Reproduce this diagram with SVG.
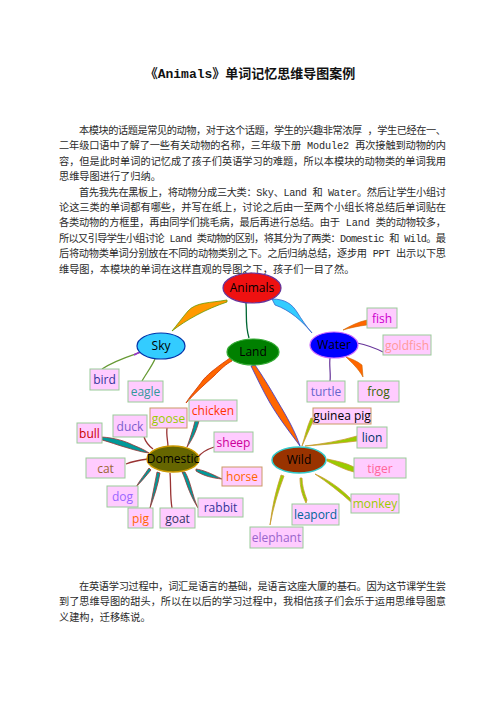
<svg xmlns="http://www.w3.org/2000/svg" width="496" height="702" viewBox="0 0 496 702">
<style>
.t{font-family:"Liberation Mono","Noto Sans CJK SC",monospace;font-size:10.2px;fill:#2a2a2a}
.title{font-family:"Liberation Mono","Noto Sans CJK SC",monospace;font-size:13px;font-weight:bold;fill:#111}
.box{fill:#ffccff;stroke:#99cc99;stroke-width:1}
.box2{fill:#ffccff;stroke:#cc9966;stroke-width:1}
.lb{font-family:"Open Sans","Noto Sans",sans-serif;font-size:12px;text-anchor:middle}
.nd{font-family:"Open Sans","Noto Sans",sans-serif;font-size:12px;text-anchor:middle;fill:#000}
.dt{fill:#009999;stroke:#993333;stroke-width:0.8}
.dl{fill:none;stroke:#993333;stroke-width:1.3}
.wt{fill:#99cc00;stroke:#cc9933;stroke-width:0.8}
</style>
<rect width="496" height="702" fill="#fff"/>
<text class="title" x="250" y="77.5" text-anchor="middle">《Animals》单词记忆思维导图案例</text>
<g id="para1">
<text class="t" x="79" y="134" textLength="367" lengthAdjust="spacing">本模块的话题是常见的动物，对于这个话题，学生的兴趣非常浓厚 ，学生已经在一、</text>
<text class="t" x="59" y="149.4" textLength="387" lengthAdjust="spacing">二年级口语中了解了一些有关动物的名称，三年级下册 Module2 再次接触到动物的内</text>
<text class="t" x="59" y="164.8" textLength="387" lengthAdjust="spacing">容，但是此时单词的记忆成了孩子们英语学习的难题，所以本模块的动物类的单词我用</text>
<text class="t" x="59" y="180.2">思维导图进行了归纳。</text>
<text class="t" x="79" y="195.6" textLength="367" lengthAdjust="spacing">首先我先在黑板上，将动物分成三大类：Sky、Land 和 Water。然后让学生小组讨</text>
<text class="t" x="59" y="211" textLength="387" lengthAdjust="spacing">论这三类的单词都有哪些，并写在纸上，讨论之后由一至两个小组长将总结后单词贴在</text>
<text class="t" x="59" y="226.4" textLength="387" lengthAdjust="spacing">各类动物的方框里，再由同学们挑毛病，最后再进行总结。由于 Land 类的动物较多，</text>
<text class="t" x="59" y="241.8" textLength="387" lengthAdjust="spacing">所以又引导学生小组讨论 Land 类动物的区别，将其分为了两类：Domestic 和 Wild。最</text>
<text class="t" x="59" y="257.2" textLength="387" lengthAdjust="spacing">后将动物类单词分别放在不同的动物类别之下。之后归纳总结，逐步用 PPT 出示以下思</text>
<text class="t" x="59" y="272.6">维导图，本模块的单词在这样直观的导图之下，孩子们一目了然。</text>
</g>
<g id="connectors">
<path d="M227,300 C210,303 196,302 188,311 C182,318 177,325 172,331 C186,320 206,309 227,302 Z" fill="#ff9900" stroke="#669900" stroke-width="0.8"/>
<path d="M272,299 C285,299 292,304 297,312 C302,320 306,326 312,333 C303,322 290,310 275,305 Z" fill="#33ccff" stroke="#3366cc" stroke-width="0.8"/>
<path d="M246,303 C247,315 245,325 249,338" fill="none" stroke="#006633" stroke-width="1.3"/>
<path d="M230,358 C220,365 210,372 203,380 C196,390 190,396 186,403 C195,393 205,384 214,376 C221,369 226,364 232,361 Z" fill="#ff6600" stroke="#cc3300" stroke-width="0.8"/>
<path d="M251,366 C257,378 263,391 270,403 C280,420 292,435 300,446 C295,431 287,417 278,402 C270,388 262,375 255,365 Z" fill="#ff6600" stroke="#3333cc" stroke-width="0.8"/>
<path d="M144,351 C130,356 115,360 102,369" fill="none" stroke="#669933" stroke-width="1.3"/>
<path d="M144,351 C140,352 137,353 134,355" fill="none" stroke="#9933cc" stroke-width="1.6"/>
<path d="M155,359 C152,366 146,374 142,381" fill="none" stroke="#669933" stroke-width="1.3"/>
<path d="M343,330 C350,326 358,322 367,320 L367,325 C358,326 350,328 343,330 Z" fill="#ff6600" stroke="#cc6600" stroke-width="0.6"/>
<path d="M357,343 C367,345 375,348 383,352" fill="none" stroke="#663399" stroke-width="1.2"/>
<path d="M330,358 C329,366 331,374 330,381" fill="none" stroke="#663399" stroke-width="1.2"/>
<path d="M346,357 C352,363 358,368 363,377 L362,365 C357,361 352,359 346,357 Z" fill="#ff6600" stroke="#cc6600" stroke-width="0.6"/>
<path class="dt" d="M102,437 C115,438 125,441 133,445 C140,448 145,450 149,453 C140,452 128,448 118,445 C112,443 106,441 102,440 Z"/>
<path class="dl" d="M144,437 C146,443 149,446 153,449"/>
<path class="dl" d="M167,428 C166,435 168,441 168,447"/>
<path class="dt" d="M187,447 C190,438 193,430 195,421 L199,421 C196,432 192,440 187,447 Z"/>
<path class="dl" d="M214,447 C208,449 202,452 198,457"/>
<path class="dl" d="M126,464 C133,461 140,460 148,459"/>
<path class="dt" d="M196,469 C203,470 210,473 222,479 C212,478 204,476 196,471 Z"/>
<path class="dt" d="M149,468 C145,474 140,480 136,487 C141,482 146,476 151,470 Z"/>
<path class="dt" d="M157,472 C155,484 152,496 150,508 C154,497 158,485 160,473 Z"/>
<path class="dl" d="M170,473 C171,485 170,497 172,508"/>
<path class="dt" d="M182,472 C186,480 188,492 198,508 C192,495 191,482 185,472 Z"/>
<path class="wt" d="M302,446 C305,436 307,427 311,418 L314,419 C310,428 306,437 302,446 Z"/>
<path class="wt" d="M305,446 C322,444 340,441 357,436 L357,441 C340,443 322,445 305,446 Z"/>
<path class="wt" d="M327,459 C337,461 346,463 354,467 L354,472 C345,470 336,465 327,461 Z"/>
<path class="wt" d="M315,474 C327,482 340,492 352,503 L350,498 C340,488 327,479 315,474 Z"/>
<path class="wt" d="M300,478 C300,487 302,495 306,503 L307,500 C304,492 302,485 302,478 Z"/>
<path class="wt" d="M281,475 C276,490 272,507 270,525 C273,508 278,492 284,476 Z"/>
</g>
<g id="animals"><ellipse cx="252" cy="288" rx="29" ry="15" fill="#ee1111" stroke="#663399" stroke-width="1.2"/><text class="nd" x="252" y="292">Animals</text></g>
<g id="sky"><ellipse cx="161" cy="346" rx="24" ry="13" fill="#33ccff" stroke="#0033aa" stroke-width="1.2"/><text class="nd" x="161" y="350">Sky</text></g>
<g id="land"><ellipse cx="253" cy="352" rx="26" ry="13" fill="#008000" stroke="#33aa33" stroke-width="1.2"/><text class="nd" x="253" y="356">Land</text></g>
<g id="water"><ellipse cx="334" cy="345" rx="24" ry="13" fill="#0000ff" stroke="#cc66ff" stroke-width="1.2"/><text class="nd" x="334" y="349">Water</text></g>
<g id="domestic"><ellipse cx="173" cy="459" rx="26" ry="13" fill="#666600" stroke="#cc9900" stroke-width="1.5"/><text class="nd" x="173" y="463" font-size="11">Domestic</text></g>
<g id="wild"><ellipse cx="299" cy="460" rx="27" ry="13" fill="#993300" stroke="#33cccc" stroke-width="1.5"/><text class="nd" x="299" y="464">Wild</text></g>
<g id="bird"><rect class="box" x="90" y="369" width="29" height="21"/><text class="lb" x="104.5" y="384" fill="#333399">bird</text></g>
<g id="eagle"><rect class="box" x="128" y="381" width="35" height="21"/><text class="lb" x="145.5" y="396" fill="#339999">eagle</text></g>
<g id="fish"><rect class="box" x="367" y="308" width="30" height="20"/><text class="lb" x="382" y="322.5" fill="#cc00cc">fish</text></g>
<g id="goldfish"><rect class="box" x="383" y="335" width="48" height="20"/><text class="lb" x="407" y="349.5" fill="#ff9999">goldfish</text></g>
<g id="turtle"><rect class="box" x="307" y="381" width="38" height="21"/><text class="lb" x="326" y="396" fill="#6666cc">turtle</text></g>
<g id="frog"><rect class="box" x="358" y="381" width="41" height="21"/><text class="lb" x="378.5" y="396" fill="#336600">frog</text></g>
<g id="guinea-pig"><rect class="box2" x="313" y="408" width="58" height="16"/><text class="lb" x="342" y="420" fill="#000" font-size="11">guinea pig</text></g>
<g id="lion"><rect class="box" x="357" y="427" width="30" height="21"/><text class="lb" x="372" y="442" fill="#003366">lion</text></g>
<g id="tiger"><rect class="box" x="354" y="458" width="52" height="20"/><text class="lb" x="380" y="472.5" fill="#ff6699">tiger</text></g>
<g id="monkey"><rect class="box" x="351" y="494" width="48" height="19"/><text class="lb" x="375" y="508" fill="#99cc00">monkey</text></g>
<g id="leapord"><rect class="box" x="292" y="504" width="47" height="21"/><text class="lb" x="315.5" y="519" fill="#006699">leapord</text></g>
<g id="elephant"><rect class="box" x="250" y="527" width="53" height="21"/><text class="lb" x="276.5" y="542" fill="#9966cc">elephant</text></g>
<g id="bull"><rect class="box" x="77" y="423" width="25" height="20"/><text class="lb" x="89.5" y="437.5" fill="#cc0000">bull</text></g>
<g id="duck"><rect class="box" x="113" y="415" width="34" height="22"/><text class="lb" x="130" y="430.5" fill="#7a5ccc">duck</text></g>
<g id="goose"><rect class="box2" x="150" y="408" width="37" height="20"/><text class="lb" x="168.5" y="422.5" fill="#99cc00">goose</text></g>
<g id="chicken"><rect class="box" x="189" y="400" width="48" height="21"/><text class="lb" x="213" y="415" fill="#ff3300">chicken</text></g>
<g id="sheep"><rect class="box" x="214" y="432" width="39" height="20"/><text class="lb" x="233.5" y="446.5" fill="#cc0099">sheep</text></g>
<g id="cat"><rect class="box" x="86" y="458" width="39" height="20"/><text class="lb" x="105.5" y="472.5" fill="#996633">cat</text></g>
<g id="horse"><rect class="box2" x="222" y="467" width="40" height="19"/><text class="lb" x="242" y="481" fill="#ff6600">horse</text></g>
<g id="dog"><rect class="box" x="107" y="486" width="31" height="21"/><text class="lb" x="122.5" y="501" fill="#9966ff">dog</text></g>
<g id="pig"><rect class="box" x="128" y="508" width="25" height="20"/><text class="lb" x="140.5" y="522.5" fill="#ff6600">pig</text></g>
<g id="goat"><rect class="box" x="160" y="508" width="35" height="20"/><text class="lb" x="177.5" y="522.5" fill="#333366">goat</text></g>
<g id="rabbit"><rect class="box" x="198" y="498" width="45" height="19"/><text class="lb" x="220.5" y="512" fill="#333399">rabbit</text></g>
<g id="para2">
<text class="t" x="79" y="590" textLength="367" lengthAdjust="spacing">在英语学习过程中，词汇是语言的基础，是语言这座大厦的基石。因为这节课学生尝</text>
<text class="t" x="59" y="605.4" textLength="387" lengthAdjust="spacing">到了思维导图的甜头，所以在以后的学习过程中，我相信孩子们会乐于运用思维导图意</text>
<text class="t" x="59" y="620.8">义建构，迁移练说。</text>
</g>
</svg>
